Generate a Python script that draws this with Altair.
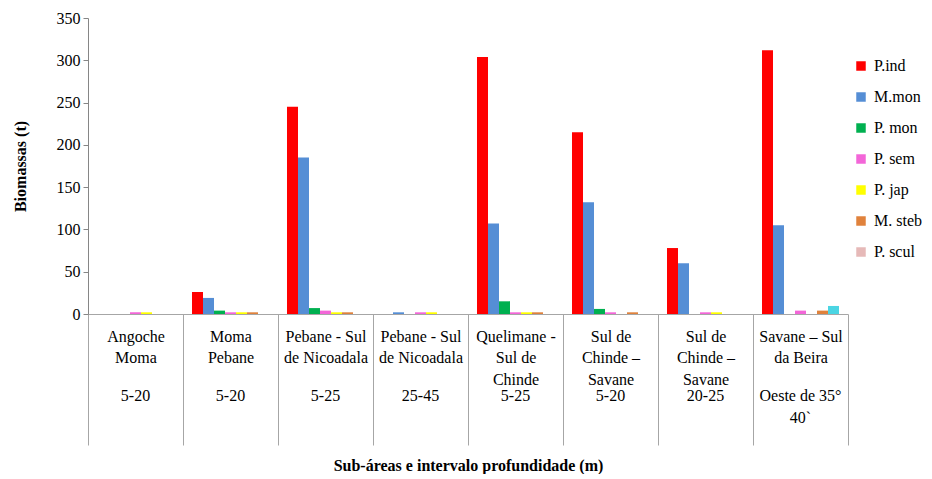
import altair as alt
import pandas as pd

names = ["Angoche|Moma", "Moma|Pebane", "Pebane - Sul|de Nicoadala", "Pebane - Sul|de Nicoadala",
         "Quelimane -|Sul de|Chinde", "Sul de|Chinde –|Savane", "Sul de|Chinde –|Savane", "Savane – Sul|da Beira"]
depths = ["5-20", "5-20", "5-25", "25-45", "5-25", "5-20", "20-25", "Oeste de 35°|40`"]
species = ["P.ind", "M.mon", "P. mon", "P. sem", "P. jap", "M. steb", "P. scul"]
colors = ["#FF0000", "#558ED5", "#00B050", "#F366D8", "#FFFF00", "#E0823C", "#E6B9B8"]

p_ind = [0, 26, 245, 0, 304, 215, 78, 312]
m_mon = [0, 19, 185, 2, 107, 132, 60, 105]
p_mon = [0, 4, 7, 0, 15, 6, 0, 0]
p_sem = [2, 2, 4, 2, 2, 2, 2, 4]
p_jap = [2, 2, 2, 2, 2, 0, 2, 0]
m_steb = [0, 2, 2, 0, 2, 2, 0, 4]
p_scul = [0, 0, 0, 0, 0, 0, 0, 9.5]
series = [p_ind, m_mon, p_mon, p_sem, p_jap, m_steb, p_scul]

keys = [f"{i}#{n}" for i, n in enumerate(names)]

rows = []
for s, vals in zip(species, series):
    for i, (k, v) in enumerate(zip(keys, vals)):
        rows.append({"grp": k, "idx": i, "species": s, "value": v})
df = pd.DataFrame(rows)
dep_df = pd.DataFrame({"grp": keys, "depth": depths})

FONT = "Times New Roman, Liberation Serif, serif"

x_enc = alt.X("grp:N", sort=keys,
              scale=alt.Scale(paddingInner=0, paddingOuter=0),
              axis=alt.Axis(title="Sub-áreas e intervalo profundidade (m)",
                            labelExpr="indexof('' + datum.value, '#') >= 0 ? split(split('' + datum.value, '#')[1], '|') : ''",
                            labelAngle=0, labelBaseline="top", labelAlign="center",
                            labelPadding=-117, labelLineHeight=21.5,
                            labelFont=FONT, labelFontSize=16, labelColor="black",
                            labelOverlap=False, labelBound=False, labelLimit=0,
                            tickBand="extent", tickSize=131, tickColor="#A6A6A6",
                            domainColor="#A6A6A6", titleFont=FONT, titleFontSize=16,
                            titleFontWeight="bold", titleColor="black", titlePadding=12))

bars = alt.Chart(df).mark_bar().encode(
    x=x_enc,
    xOffset=alt.XOffset("species:N", sort=species,
                        scale=alt.Scale(paddingInner=0, paddingOuter=0.818)),
    y=alt.Y("value:Q", scale=alt.Scale(domain=[0, 350]),
            axis=alt.Axis(title="Biomassas (t)", values=list(range(0, 351, 50)), grid=False,
                          tickSize=5, labelPadding=3, tickColor="#868686", domainColor="#868686",
                          labelFont=FONT, labelFontSize=16, labelColor="black",
                          titleFont=FONT, titleFontSize=16, titleFontWeight="bold",
                          titleColor="black", titlePadding=28)),
    color=alt.condition("datum.species == 'P. scul' && datum.idx == 7",
                        alt.value("#4BD5E3"),
                        alt.Color("species:N", sort=species,
                                  scale=alt.Scale(domain=species, range=colors),
                                  legend=alt.Legend(title=None, orient="none", legendX=765, legendY=40,
                                                    symbolType="square", symbolSize=90,
                                                    symbolStrokeWidth=0, labelFont=FONT,
                                                    labelFontSize=16, labelColor="black",
                                                    rowPadding=15, labelOffset=5, labelLimit=0))),
)

depth_text = alt.Chart(dep_df).mark_text(
    font=FONT, fontSize=16, baseline="top", align="center", lineBreak="|", lineHeight=22, color="black"
).encode(
    x=alt.X("grp:N", sort=keys),
    y=alt.value(370),
    text="depth:N",
)

chart = alt.layer(bars, depth_text).properties(
    width=760, height=296,
    autosize=alt.AutoSizeParams(type="none"),
    padding={"left": 80, "top": 10, "right": 76, "bottom": 160},
).configure_view(stroke=None)

chart.save("out.html", embed_options={"renderer": "svg", "actions": False})
